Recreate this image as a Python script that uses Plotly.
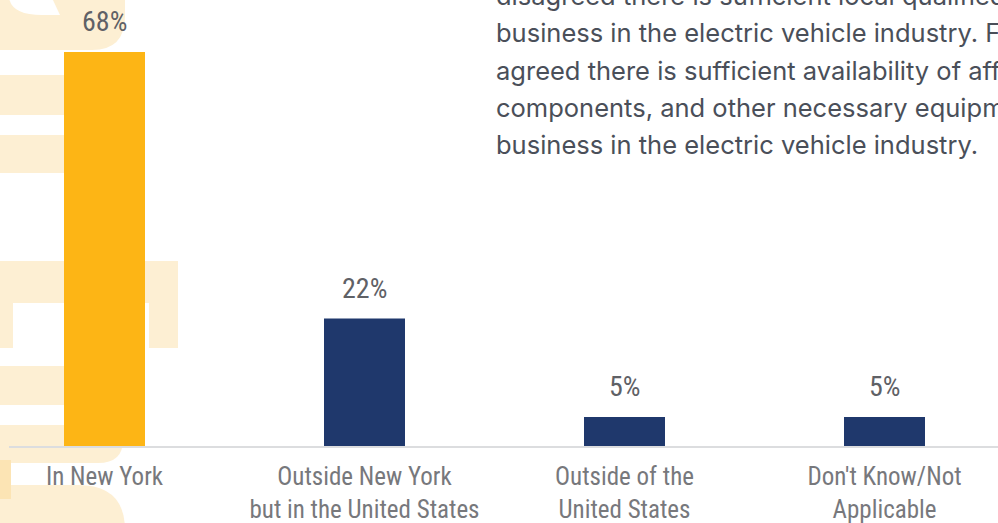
import plotly.graph_objects as go

# Survey responses: where the business is located
categories = ["In New York", "Outside New York<br>but in the United States",
              "Outside of the<br>United States", "Don't Know/Not<br>Applicable"]
values = [68, 22, 5, 5]
value_labels = ["68%", "22%", "5%", "5%"]
bar_colors = ["#FDB515", "#1F386C", "#1F386C", "#1F386C"]

paragraph_lines = [
    "disagreed there is sufficient local qualified labor to support a",
    "business in the electric vehicle industry. Forty-five percent",
    "agreed there is sufficient availability of affordable parts,",
    "components, and other necessary equipment to support a",
    "business in the electric vehicle industry.",
]

W, H = 998, 523
ML, MR, MT, MB = 9, 0, 0, 77
PW, PH = W - ML - MR, H - MT - MB
SLOT = 260.0          # pixel spacing between category centres
FIRST = 104.5         # pixel centre of the first category

LABEL_FONT = "Roboto Condensed, Liberation Sans Narrow, sans-serif"


def px(x):
    return (x - ML) / PW


def py(y):
    return (H - MB - y) / PH


PALE = "#FDEFD3"
PALE_DARK = "#FCE4B4"


def path_px(cmds):
    # SVG path in paper coordinates built from pixel-space commands
    out = []
    for cmd, *pts in cmds:
        coords = [f"{px(pts[i]):.5f},{py(pts[i + 1]):.5f}" for i in range(0, len(pts), 2)]
        out.append(cmd + " " + " ".join(coords))
    return " ".join(out) + " Z"


shapes = []


def add_path(cmds, color):
    shapes.append(dict(type="path", xref="paper", yref="paper", layer="below",
                       path=path_px(cmds), fillcolor=color, line_width=0))


def add_rect(x0, y0, x1, y1, color):
    shapes.append(dict(type="rect", xref="paper", yref="paper", layer="below",
                       x0=px(x0), x1=px(x1), y0=py(y1), y1=py(y0),
                       fillcolor=color, line_width=0))


# large faint lettering in the background
add_path([("M", 0, -2), ("L", 125, -2), ("L", 125, 16), ("Q", 125, 50, 92, 50), ("L", 0, 50)], PALE)
add_path([("M", 9, -2), ("Q", 12, 15, 42, 15), ("L", 60, 15), ("L", 52, -2)], "#FFFFFF")
add_rect(0, 75, 100, 115, PALE)
add_rect(0, 135, 100, 173, PALE)
add_rect(0, 261, 178, 303, PALE)
add_rect(0, 303, 13, 348, PALE)
add_rect(149, 303, 178, 348, PALE)
add_rect(0, 366, 100, 405, PALE)
add_path([("M", 0, 425), ("L", 123, 425), ("L", 123, 440), ("Q", 123, 463, 98, 463), ("L", 0, 463)], PALE)
add_path([("M", 0, 485), ("L", 78, 485), ("Q", 125, 485, 125, 530), ("L", 0, 530)], PALE)
add_rect(0, 460, 11, 499, PALE_DARK)

fig = go.Figure(go.Bar(
    x=list(range(len(categories))), y=values,
    marker=dict(color=bar_colors, line_width=0),
    width=81 / SLOT, hoverinfo="skip",
))

annotations = []
for i, (v, lab) in enumerate(zip(values, value_labels)):
    annotations.append(dict(
        x=i, y=v, xref="x", yref="y", text=lab, showarrow=False,
        yanchor="bottom", yshift=12,
        font=dict(family=LABEL_FONT, size=28, color="#5F6166"),
    ))

for k, line in enumerate(paragraph_lines):
    baseline = 5 + 37 * k
    annotations.append(dict(
        x=px(494), y=py(baseline - 9), xref="paper", yref="paper",
        text=line, showarrow=False, xanchor="left", yanchor="middle",
        font=dict(family="Inter, Open Sans, sans-serif", size=25.5, color="#4A4F59"),
    ))

fig.update_layout(
    width=W, height=H,
    margin=dict(l=ML, r=MR, t=MT, b=MB),
    paper_bgcolor="white", plot_bgcolor="rgba(0,0,0,0)",
    showlegend=False,
    shapes=shapes,
    annotations=annotations,
    xaxis=dict(
        range=[-(FIRST - ML) / SLOT, (W - FIRST) / SLOT],
        tickvals=list(range(len(categories))), ticktext=categories,
        showgrid=False, zeroline=False, automargin=False,
        showline=True, linecolor="#DCDDDF", linewidth=2,
        ticks="", ticklabelstandoff=7,
        tickfont=dict(family=LABEL_FONT, size=25, color="#77787C"),
        fixedrange=True,
    ),
    yaxis=dict(range=[0, 68 * 446 / 394], visible=False, fixedrange=True, automargin=False),
)

fig.write_html("out.html", config={"displayModeBar": False})
